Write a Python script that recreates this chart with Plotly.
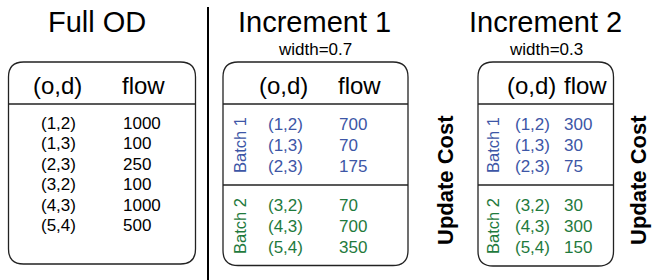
import plotly.graph_objects as go

# ---- data ----
od_pairs = ["(1,2)", "(1,3)", "(2,3)", "(3,2)", "(4,3)", "(5,4)"]
full_flow = [1000, 100, 250, 100, 1000, 500]
inc1_flow = [700, 70, 175, 70, 700, 350]
inc2_flow = [300, 30, 75, 30, 300, 150]
batch_labels = ["Batch 1", "Batch 2"]
titles = ["Full OD", "Increment 1", "Increment 2"]
subtitles = ["", "width=0.7", "width=0.3"]
header = ["(o,d)", "flow"]

BLUE = "#3d56a6"
GREEN = "#1f7a3d"
FONT = "Liberation Sans, Arial, Helvetica, sans-serif"

W, H = 657, 280
fig = go.Figure()
shapes = []
ann = []


def rrect(x0, y0, x1, y1, r):
    return (f"M {x0+r},{y0} L {x1-r},{y0} Q {x1},{y0} {x1},{y0+r} "
            f"L {x1},{y1-r} Q {x1},{y1} {x1-r},{y1} L {x0+r},{y1} "
            f"Q {x0},{y1} {x0},{y1-r} L {x0},{y0+r} Q {x0},{y0} {x0+r},{y0} Z")


def text(x, y, s, size, color="black", xanchor="center", angle=0, bold=False):
    ann.append(dict(x=x, y=y, xref="x", yref="y", text=f"<b>{s}</b>" if bold else s,
                    showarrow=False, xanchor=xanchor, yanchor="middle", textangle=angle,
                    font=dict(family=FONT, size=size, color=color)))


def line(x0, y0, x1, y1, w=1.3, color="#222"):
    shapes.append(dict(type="line", x0=x0, y0=y0, x1=x1, y1=y1, xref="x", yref="y",
                       line=dict(color=color, width=w)))


# Panel layout
panels = [
    dict(cx=97, box=(8.5, 62, 195.5, 264), odx=58, valx=121, hx=(57, 143), batches=False, flow=full_flow),
    dict(cx=314, box=(223, 62, 408, 265.5), odx=285, valx=337, hx=(283, 359), batches=True, flow=inc1_flow, bx=240),
    dict(cx=545, box=(478, 62, 613.5, 266), odx=532, valx=562, hx=(531, 585), batches=True, flow=inc2_flow, bx=493),
]

for i, p in enumerate(panels):
    x0, y0, x1, y1 = p["box"]
    shapes.append(dict(type="path", path=rrect(x0, y0, x1, y1, 15), xref="x", yref="y",
                       line=dict(color="#222", width=1.3)))
    text(p["cx"], 22, titles[i], 29)
    if subtitles[i]:
        text(p["cx"] + 1, 49, subtitles[i], 17)
    text(p["hx"][0], 85, header[0], 24)
    text(p["hx"][1], 85, header[1], 24)
    line(x0, 104, x1, 104)
    if not p["batches"]:
        ys = [123, 143.5, 164, 184.5, 205, 225.5]
        for od, f, y in zip(od_pairs, p["flow"], ys):
            text(p["odx"], y, od, 17)
            text(p["valx"], y, str(f), 17, xanchor="left")
    else:
        line(x0, 185, x1, 185)
        ys = [124, 145, 166, 205, 226, 247]
        for k, (od, f, y) in enumerate(zip(od_pairs, p["flow"], ys)):
            c = BLUE if k < 3 else GREEN
            text(p["odx"], y, od, 17, c)
            text(p["valx"], y, str(f), 17, c, xanchor="left")
        text(p["bx"], 145, batch_labels[0], 16.5, BLUE, angle=-90)
        text(p["bx"], 226, batch_labels[1], 16.5, GREEN, angle=-90)

# divider
line(208, 7, 208, 280, 2, "black")
# update cost labels
text(445, 180, "Update Cost", 22, angle=-90, bold=True)
text(638, 180, "Update Cost", 22, angle=-90, bold=True)

fig.update_layout(
    width=W, height=H, margin=dict(l=0, r=0, t=0, b=0),
    paper_bgcolor="white", plot_bgcolor="white",
    xaxis=dict(range=[0, W], visible=False, fixedrange=True),
    yaxis=dict(range=[H, 0], visible=False, fixedrange=True),
    shapes=shapes, annotations=ann, showlegend=False,
)
fig.write_html("out.html", config={"displayModeBar": False, "staticPlot": True},
               post_script="document.body.style.margin='0';document.body.style.overflow='hidden';")
